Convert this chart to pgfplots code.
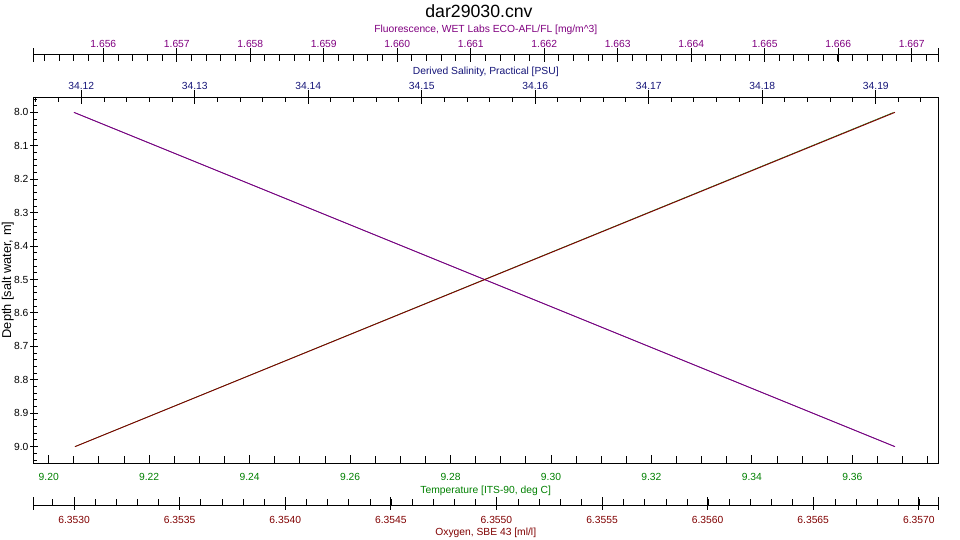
\documentclass[border=0pt]{standalone}
\usepackage{fontspec}
\setmainfont{Liberation Sans}
\usepackage{pgfplots}
\pgfplotsset{compat=1.18}

\definecolor{fluo}{RGB}{128,0,128}
\definecolor{sal}{RGB}{20,20,120}
\definecolor{temp}{RGB}{0,128,0}
\definecolor{oxy}{RGB}{128,0,0}

\pgfplotsset{
  base/.style={
    scale only axis, width=904.5pt, height=366pt, anchor=south west,
    scaled ticks=false,
    /pgf/number format/assume math mode=true,
    ticklabel style={font=\fontsize{10.3}{12}\selectfont},
    label style={font=\fontsize{10.3}{12}\selectfont},
    tick align=inside,
    axis line style={line width=0.9pt, black},
    tick style={line width=0.9pt, black},
  },
  depthlim/.style={ymin=7.954, ymax=9.049, y dir=reverse},
  under/.style={line width=0.5pt},
  series/.style={line width=0.9pt},
}

\begin{document}
\begin{tikzpicture}
\path[use as bounding box] (0,0) rectangle (960pt,540pt);

% frame + title
\begin{axis}[base, at={(33.5pt,77pt)}, xmin=0, xmax=1, ymin=0, ymax=1,
  xtick=\empty, ytick=\empty,
  title={dar29030.cnv},
  title style={at={(axis description cs:0.4925,1)}, anchor=base, yshift=73.7pt,
    font=\fontsize{17.7}{20}\selectfont}]
\end{axis}

% temperature (bottom of box)
\begin{axis}[base, depthlim, at={(33.5pt,77pt)},
  axis x line*=bottom, hide y axis,
  xmin=9.19697, xmax=9.37706,
  xtick={9.20,9.22,9.24,9.26,9.28,9.30,9.32,9.34,9.36},
  minor xtick={9.205,9.21,...,9.375},
  major tick length=8.3pt, minor tick length=6.7pt,
  xticklabel style={anchor=base, yshift=-17.7pt, text=temp,
    /pgf/number format/fixed, /pgf/number format/fixed zerofill, /pgf/number format/precision=2},
  xlabel={Temperature [ITS-90, deg C]},
  xlabel style={at={(axis description cs:0.5,0)}, anchor=base, yshift=-30.2pt, text=temp}]
\addplot[temp, under] coordinates {(9.2052,9.0) (9.3682,8.0)};
\end{axis}

% depth (left)
\begin{axis}[base, depthlim, at={(33.5pt,77pt)},
  axis y line*=left, hide x axis, xmin=0, xmax=1,
  ytick={8.0,8.1,8.2,8.3,8.4,8.5,8.6,8.7,8.8,8.9,9.0},
  minor ytick={7.96,7.98,...,9.04},
  major tick length=8.3pt, minor tick length=3.3pt,
  major tick style={xshift=-3.3pt},
  yticklabel style={xshift=-1.6pt,
    /pgf/number format/fixed, /pgf/number format/fixed zerofill, /pgf/number format/precision=1},
  ylabel={Depth [salt water, m]},
  ylabel style={at={(axis description cs:-0.0247,0.5)}, anchor=base,
    font=\fontsize{12.8}{14}\selectfont}]
\end{axis}

% salinity (top of box)
\begin{axis}[base, depthlim, at={(33.5pt,77pt)},
  axis x line*=top, hide y axis,
  xmin=34.11579, xmax=34.19548,
  xtick={34.12,34.13,34.14,34.15,34.16,34.17,34.18,34.19},
  minor xtick={34.116,34.118,...,34.194},
  major tick length=14pt, minor tick length=5pt,
  major tick style={yshift=7pt},
  xticklabel style={anchor=base, yshift=7.4pt, text=sal,
    /pgf/number format/fixed, /pgf/number format/precision=2},
  xlabel={Derived Salinity, Practical [PSU]},
  xlabel style={at={(axis description cs:0.5,1)}, anchor=base, yshift=22.7pt, text=sal}]
\addplot[sal, under] coordinates {(34.11936,8.0) (34.19169,9.0)};
\end{axis}

% fluorescence axis (above)
\begin{axis}[base, at={(33.5pt,119.7pt)}, ymin=0, ymax=1,
  axis x line*=top, hide y axis,
  xmin=1.65505, xmax=1.667357,
  xtick={1.656,1.657,1.658,1.659,1.660,1.661,1.662,1.663,1.664,1.665,1.666,1.667},
  minor xtick={1.6552,1.6554,...,1.6672},
  extra x ticks={1.65505,1.667357}, extra x tick labels={},
  major tick length=13.4pt, minor tick length=6.7pt,
  major tick style={yshift=6pt},
  xticklabel style={anchor=base, yshift=7pt, text=fluo,
    /pgf/number format/fixed, /pgf/number format/fixed zerofill, /pgf/number format/precision=3},
  xlabel={Fluorescence, WET Labs ECO-AFL/FL [mg/m\^{}3]},
  xlabel style={at={(axis description cs:0.5,1)}, anchor=base, yshift=21.3pt, text=fluo}]
\end{axis}
\begin{axis}[base, depthlim, at={(33.5pt,77pt)}, hide axis,
  xmin=1.65505, xmax=1.667357]
\addplot[fluo, series] coordinates {(1.6556,8.0) (1.66677,9.0)};
\end{axis}

% oxygen axis (below)
\begin{axis}[base, at={(33.5pt,34.3pt)}, ymin=0, ymax=1,
  axis x line*=bottom, hide y axis,
  xmin=6.352808, xmax=6.357091,
  xtick={6.3530,6.3535,6.3540,6.3545,6.3550,6.3555,6.3560,6.3565,6.3570},
  minor xtick={6.3529,6.3530,...,6.3570},
  extra x ticks={6.352808,6.357091}, extra x tick labels={},
  major tick length=12.7pt, minor tick length=6.7pt,
  major tick style={yshift=-4.3pt},
  xticklabel style={anchor=base, yshift=-17.6pt, text=oxy,
    /pgf/number format/fixed, /pgf/number format/fixed zerofill, /pgf/number format/precision=4},
  xlabel={Oxygen, SBE 43 [ml/l]},
  xlabel style={at={(axis description cs:0.5,0)}, anchor=base, yshift=-29.8pt, text=oxy}]
\end{axis}
\begin{axis}[base, depthlim, at={(33.5pt,77pt)}, hide axis,
  xmin=6.352808, xmax=6.357091]
\addplot[oxy, series] coordinates {(6.353005,9.0) (6.356887,8.0)};
\end{axis}

\end{tikzpicture}
\end{document}
